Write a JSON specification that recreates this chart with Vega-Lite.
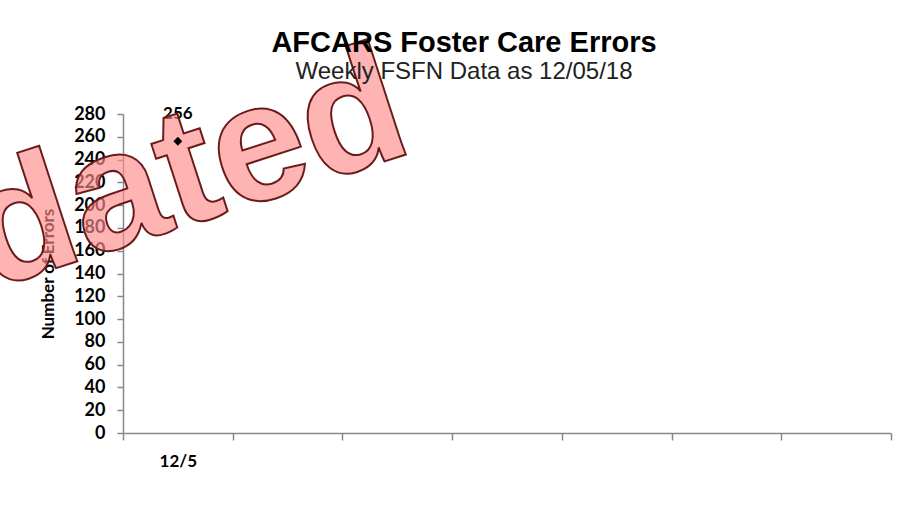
{
  "$schema": "https://vega.github.io/schema/vega-lite/v6.json",
  "autosize": "none",
  "width": 768,
  "height": 319,
  "padding": {"left": 123, "top": 114, "right": 25, "bottom": 72},
  "background": "white",
  "config": {"view": {"stroke": null}},
  "title": {
    "text": "AFCARS Foster Care Errors",
    "subtitle": "Weekly FSFN Data as 12/05/18",
    "anchor": "middle",
    "dx": -43,
    "offset": -60,
    "font": "Liberation Sans",
    "fontSize": 29,
    "fontWeight": "bold",
    "color": "black",
    "subtitleFont": "Liberation Sans",
    "subtitleFontSize": 24,
    "subtitleColor": "#222222",
    "subtitlePadding": 2
  },
  "encoding": {
    "x": {
      "field": "week",
      "type": "ordinal",
      "sort": null,
      "scale": {"domain": ["12/5", "12/12", "12/19", "12/26", "1/2", "1/9", "1/16"], "paddingInner": 0, "paddingOuter": 0},
      "axis": {
        "title": null,
        "tickBand": "extent",
        "labelExpr": "datum.value == '12/5' ? datum.label : ''",
        "labelAngle": 0,
        "labelFont": "Lato",
        "labelFontWeight": "bold",
        "labelFontSize": 17,
        "labelColor": "black",
        "labelPadding": 13,
        "tickSize": 7,
        "tickColor": "#888888",
        "domainColor": "#888888",
        "domainWidth": 1.5,
        "tickWidth": 1.5,
        "grid": false
      }
    },
    "y": {
      "field": "errors",
      "type": "quantitative",
      "scale": {"domain": [0, 280], "nice": false},
      "axis": {
        "title": "Number of Errors",
        "values": [0, 20, 40, 60, 80, 100, 120, 140, 160, 180, 200, 220, 240, 260, 280],
        "tickCount": 20,
        "grid": false,
        "labelOverlap": false,
        "labelFont": "Lato",
        "labelFontWeight": "bold",
        "labelFontSize": 18,
        "labelColor": "black",
        "labelPadding": 12,
        "tickSize": 6,
        "tickColor": "#888888",
        "domainColor": "#888888",
        "domainWidth": 1.5,
        "tickWidth": 1.5,
        "titleFont": "Lato",
        "titleFontWeight": "bold",
        "titleFontSize": 17,
        "titleColor": "black",
        "titlePadding": 16
      }
    }
  },
  "layer": [
    {
      "data": {"values": [{"week": "12/5", "errors": 256}]},
      "mark": {"type": "text", "dy": -22, "baseline": "alphabetic", "align": "center", "font": "Lato", "fontWeight": "bold", "fontSize": 17, "color": "black"},
      "encoding": {
        "text": {"field": "errors", "type": "quantitative"}
      }
    },
    {
      "data": {"values": [{"week": "12/19", "errors": 242, "note": "Updated"}]},
      "mark": {
        "type": "text",
        "align": "right",
        "baseline": "alphabetic",
        "dx": 20,
        "angle": -18,
        "font": "Liberation Sans",
        "fontWeight": "bold",
        "fontSize": 168,
        "fill": "#ff8c8c",
        "fillOpacity": 0.65,
        "stroke": "#6b1a1a",
        "strokeWidth": 2
      },
      "encoding": {
        "text": {"field": "note"}
      }
    },
    {
      "data": {"values": [{"week": "12/5", "errors": 256}]},
      "mark": {"type": "point", "shape": "diamond", "filled": true, "size": 80, "color": "black", "opacity": 1}
    }
  ]
}
